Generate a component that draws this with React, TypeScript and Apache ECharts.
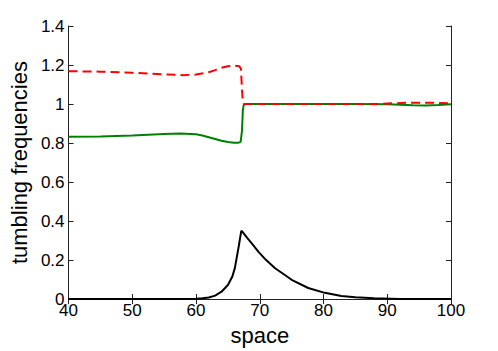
import React, { useEffect, useRef } from "react";
import * as echarts from "echarts";

const xTicks = [40, 50, 60, 70, 80, 90, 100];

const redX = [40, 45, 50, 55, 58, 60, 62, 63, 64, 65, 66, 66.8, 67.05, 67.2, 67.35, 67.5, 70, 80, 88, 91, 94, 97, 100];
const redY = [1.168, 1.166, 1.16, 1.152, 1.148, 1.151, 1.163, 1.174, 1.186, 1.194, 1.197, 1.194, 1.18, 1.08, 1.01, 1.0, 1.0, 1.0, 1.0, 1.004, 1.007, 1.007, 1.003];

const greenX = [40, 45, 50, 55, 57.5, 60, 61, 62, 63, 64, 65, 66, 66.6, 67.0, 67.2, 67.35, 67.5, 68, 75, 85, 90, 92, 94, 96, 98, 100];
const greenY = [0.832, 0.834, 0.839, 0.846, 0.849, 0.845, 0.839, 0.83, 0.821, 0.812, 0.805, 0.801, 0.801, 0.806, 0.86, 0.97, 0.997, 1.0, 1.0, 1.0, 0.999, 0.996, 0.994, 0.993, 0.995, 0.999];

const blackX = [40, 55, 60, 61, 62, 63, 64, 65, 65.7, 66.1, 66.4, 66.7, 66.9, 67.1, 67.3, 68, 69, 69.8, 71, 72.4, 74, 75, 77.6, 80.2, 82.8, 85, 87.9, 92, 100];
const blackY = [0, 0, 0.002, 0.004, 0.008, 0.018, 0.038, 0.072, 0.116, 0.16, 0.215, 0.27, 0.31, 0.35, 0.345, 0.315, 0.275, 0.242, 0.2, 0.158, 0.122, 0.099, 0.057, 0.032, 0.016, 0.009, 0.004, 0.001, 0];

const zip = (xs: number[], ys: number[]) => xs.map((x, i) => [x, ys[i]]);

export default function App() {
  const ref = useRef<HTMLDivElement>(null);
  useEffect(() => {
    const chart = echarts.init(ref.current!, null, { renderer: "svg" });
    const font = "'Liberation Sans', Arial, Helvetica, sans-serif";
    const axisLine = { show: true, lineStyle: { color: "#222", width: 1 } };
    const tick = { show: true, inside: true, length: 5, lineStyle: { color: "#222" } };
    chart.setOption({
      animation: false,
      backgroundColor: "#fff",
      grid: { left: 65, right: 47, top: 26, bottom: 48, containLabel: false },
      xAxis: [
        {
          type: "value",
          min: xTicks[0],
          max: xTicks[xTicks.length - 1],
          interval: 10,
          position: "bottom",
          axisLine,
          axisTick: tick,
          splitLine: { show: false },
          axisLabel: { fontFamily: font, fontSize: 17, color: "#000", margin: 3 },
          name: "space",
          nameLocation: "middle",
          nameGap: 23,
          nameTextStyle: { fontFamily: font, fontSize: 22, color: "#000" },
        },
        {
          type: "value",
          min: xTicks[0],
          max: xTicks[xTicks.length - 1],
          interval: 10,
          position: "top",
          axisLine,
          axisTick: tick,
          splitLine: { show: false },
          axisLabel: { show: false },
        },
      ],
      yAxis: [
        {
          type: "value",
          min: 0,
          max: 1.4,
          interval: 0.2,
          position: "left",
          axisLine,
          axisTick: tick,
          splitLine: { show: false },
          axisLabel: { fontFamily: font, fontSize: 17, color: "#000", margin: 4 },
          name: "tumbling frequencies",
          nameLocation: "middle",
          nameGap: 36,
          nameTextStyle: { fontFamily: font, fontSize: 22, color: "#000" },
        },
        {
          type: "value",
          min: 0,
          max: 1.4,
          interval: 0.2,
          position: "right",
          axisLine,
          axisTick: tick,
          splitLine: { show: false },
          axisLabel: { show: false },
        },
      ],
      series: [
        {
          type: "line",
          data: zip(blackX, blackY),
          showSymbol: false,
          lineStyle: { color: "#000", width: 2 },
          z: 3,
        },
        {
          type: "line",
          data: zip(greenX, greenY),
          showSymbol: false,
          lineStyle: { color: "#008000", width: 2 },
          z: 2,
        },
        {
          type: "line",
          data: zip(redX, redY),
          showSymbol: false,
          lineStyle: { color: "#ff0000", width: 2, type: [9, 5] },
          z: 4,
        },
      ],
    });
    return () => chart.dispose();
  }, []);
  return (
    <div
      ref={ref}
      style={{ position: "fixed", left: 0, top: 0, width: 498, height: 351 }}
    />
  );
}
